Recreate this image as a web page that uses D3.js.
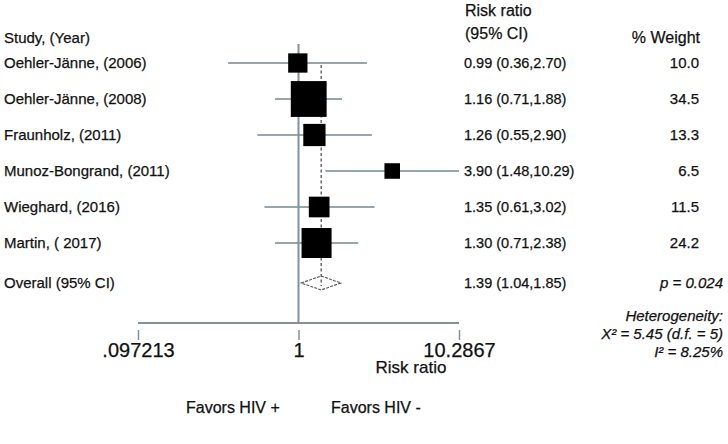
<!DOCTYPE html>
<html>
<head>
<meta charset="utf-8">
<script src="https://cdn.jsdelivr.net/npm/d3@7"></script>
<style>
  html, body { margin: 0; padding: 0; background: #fff; }
  svg { display: block; font-family: "Liberation Sans", Arial, Helvetica, sans-serif; }
  svg text { fill: #111; stroke: #111; stroke-width: 0.25px; }
</style>
</head>
<body>
<svg id="chart" width="728" height="444"></svg>
<script>
// ---- data ----
const studies = ["Oehler-Jänne, (2006)", "Oehler-Jänne, (2008)", "Fraunholz, (2011)",
                 "Munoz-Bongrand, (2011)", "Wieghard, (2016)", "Martin, ( 2017)"];
const riskRatio = [0.99, 1.16, 1.26, 3.90, 1.35, 1.30];
const ciLow     = [0.36, 0.71, 0.55, 1.48, 0.61, 0.71];
const ciHigh    = [2.70, 1.88, 2.90, 10.29, 3.02, 2.38];
const weights   = [10.0, 34.5, 13.3, 6.5, 11.5, 24.2];
const overallLabel = "Overall (95% CI)";
const overallValues = [1.39, 1.04, 1.85]; // estimate, low, high
const overallP = "p = 0.024";
const heterogeneity = ["Heterogeneity:", "X² =  5.45 (d.f. = 5)", "I² = 8.25%"];
const tickValues = [0.097213, 1, 10.2867];
const tickLabels = [".097213", "1", "10.2867"];
const axisTitle = "Risk ratio";
const favorLabels = ["Favors HIV +", "Favors HIV -"];

// ---- layout ----
const svg = d3.select("#chart");
const grey = "#82919a";
const ciGrey = "#97a6ad";
const f2 = d3.format(".2f");
const f1 = d3.format(".1f");

const x = d3.scaleLog().domain([tickValues[0], tickValues[2]]).range([138, 459]).clamp(true);
const row = d3.scaleLinear().domain([0, 5]).range([63, 243]);
const oy = 283;
const boxSide = w => 6.1 * Math.sqrt(w);
const data = studies.map((s, i) => ({s, rr: riskRatio[i], lo: ciLow[i], hi: ciHigh[i], w: weights[i], i}));

// headers
svg.append("text").attr("x", 4).attr("y", 38).attr("dy", "0.35em")
  .style("font-size", "15px").text("Study, (Year)");
svg.append("text").attr("x", 465).attr("y", 10).attr("dy", "0.35em")
  .style("font-size", "16px").text("Risk ratio");
svg.append("text").attr("x", 465).attr("y", 33).attr("dy", "0.35em")
  .style("font-size", "16px").text("(95% CI)");
svg.append("text").attr("x", 700).attr("y", 37).attr("dy", "0.35em")
  .attr("text-anchor", "end").style("font-size", "16px").text("% Weight");

// horizontal axis line (plot region bottom)
const axisLineY = 323;
svg.append("line").attr("x1", x(tickValues[0])).attr("x2", x(tickValues[2]))
  .attr("y1", axisLineY).attr("y2", axisLineY).attr("stroke", grey).attr("stroke-width", 2);

// CI lines
svg.append("g").selectAll("line").data(data).join("line")
  .attr("x1", d => x(d.lo)).attr("x2", d => x(d.hi))
  .attr("y1", d => row(d.i)).attr("y2", d => row(d.i))
  .attr("stroke", ciGrey).attr("stroke-width", 2);

// null line
svg.append("line").attr("x1", x(1)).attr("x2", x(1)).attr("y1", 44).attr("y2", axisLineY)
  .attr("stroke", grey).attr("stroke-width", 2);

// overall dashed line
svg.append("line").attr("x1", x(overallValues[0])).attr("x2", x(overallValues[0]))
  .attr("y1", row(0) + 2).attr("y2", oy + 3)
  .attr("stroke", "#444").attr("stroke-width", 1.2).attr("stroke-dasharray", "3,2.5");

// boxes
svg.append("g").selectAll("rect").data(data).join("rect")
  .attr("x", d => x(d.rr) - boxSide(d.w) / 2).attr("y", d => row(d.i) - boxSide(d.w) / 2)
  .attr("width", d => boxSide(d.w)).attr("height", d => boxSide(d.w))
  .attr("fill", "#000");

// diamond
const dpts = [[x(overallValues[1]), oy], [x(overallValues[0]), oy - 7],
              [x(overallValues[2]), oy], [x(overallValues[0]), oy + 7]];
svg.append("path").attr("d", d3.line()(dpts) + "Z")
  .attr("fill", "none").attr("stroke", "#555").attr("stroke-width", 1.1)
  .attr("stroke-dasharray", "3,1.2");

// study labels, CI text, weights
const tg = svg.append("g");
tg.selectAll("text.study").data(data).join("text").attr("class", "study")
  .attr("x", 4).attr("y", d => row(d.i)).attr("dy", "0.35em")
  .style("font-size", "15px").text(d => d.s);
tg.selectAll("text.ci").data(data).join("text").attr("class", "ci")
  .attr("x", 464).attr("y", d => row(d.i)).attr("dy", "0.35em")
  .style("font-size", "14.5px")
  .text(d => `${f2(d.rr)} (${f2(d.lo)},${f2(d.hi)})`);
tg.selectAll("text.wt").data(data).join("text").attr("class", "wt")
  .attr("x", 699).attr("y", d => row(d.i)).attr("dy", "0.35em")
  .attr("text-anchor", "end").style("font-size", "15px").text(d => f1(d.w));

// overall row
svg.append("text").attr("x", 4).attr("y", oy).attr("dy", "0.35em")
  .style("font-size", "15px").text(overallLabel);
svg.append("text").attr("x", 464).attr("y", oy).attr("dy", "0.35em")
  .style("font-size", "14.5px")
  .text(`${f2(overallValues[0])} (${f2(overallValues[1])},${f2(overallValues[2])})`);
svg.append("text").attr("x", 723).attr("y", oy).attr("dy", "0.35em")
  .attr("text-anchor", "end").style("font-size", "15px").style("font-style", "italic")
  .text(overallP);

// heterogeneity block
svg.append("g").selectAll("text").data(heterogeneity).join("text")
  .attr("x", 723).attr("y", (d, i) => 316 + i * 18).attr("dy", "0.35em")
  .attr("text-anchor", "end").style("font-size", "15px").style("font-style", "italic")
  .text(d => d);

// x axis ticks
const axis = d3.axisBottom(x).tickValues(tickValues)
  .tickFormat((d, i) => tickLabels[i]).tickSize(10).tickPadding(3);
const ag = svg.append("g").attr("transform", `translate(0,330)`).call(axis);
ag.select(".domain").remove();
ag.selectAll(".tick line").attr("stroke", grey).attr("stroke-width", 1.5);
ag.selectAll(".tick text").attr("fill", "#111")
  .style("font-size", "20px").style("font-family", "'Liberation Sans', Arial, sans-serif");

// axis title
svg.append("text").attr("x", 411).attr("y", 373).attr("text-anchor", "middle")
  .style("font-size", "17px").text(axisTitle);

// favors labels
svg.append("text").attr("x", 186).attr("y", 413).style("font-size", "16px").text(favorLabels[0]);
svg.append("text").attr("x", 331).attr("y", 413).style("font-size", "16px").text(favorLabels[1]);
</script>
</body>
</html>
